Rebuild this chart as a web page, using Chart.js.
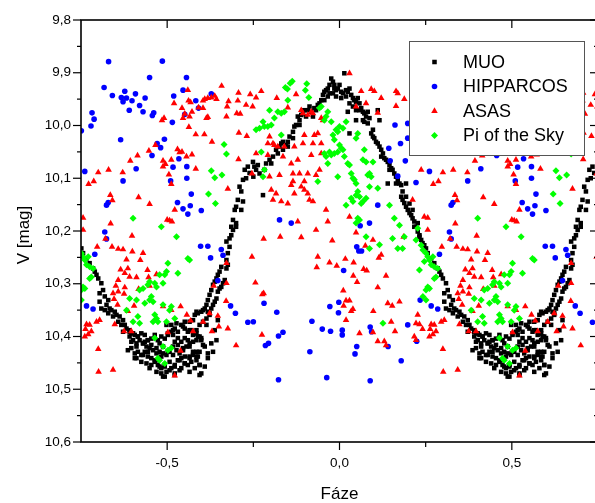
<!DOCTYPE html>
<html>
<head>
<meta charset="utf-8">
<script src="https://cdn.jsdelivr.net/npm/chart.js@4.4.1/dist/chart.umd.min.js"></script>
<style>
  html, body { margin: 0; padding: 0; overflow: hidden; background: #fff; }
  #wrap { width: 620px; height: 503px; }
</style>
</head>
<body>
<div id="wrap"><canvas id="lightCurve" width="620" height="503"></canvas></div>
<script>
// axis ticks
const xTickValues = [-0.5, 0, 0.5];
const xMinorTicks = [-0.25, 0.25];
const yTickValues = [9.8, 9.9, 10.0, 10.1, 10.2, 10.3, 10.4, 10.5, 10.6];
const yMinorTicks = [9.85, 9.95, 10.05, 10.15, 10.25, 10.35, 10.45, 10.55];

// one cycle of [phase, V mag], phases -0.25..0.75
const muoPoints = [
  [-0.250,10.097],[-0.242,10.084],[-0.237,10.075],[-0.247,10.078],[-0.222,10.132],[-0.218,10.084],[-0.213,10.072],[-0.203,10.065],
  [-0.193,10.059],[-0.184,10.046],[-0.174,10.040],[-0.169,10.034],[-0.164,10.031],[-0.155,10.037],[-0.150,10.031],[-0.145,10.021],
  [-0.135,10.012],[-0.131,10.002],[-0.126,9.999],[-0.121,9.983],[-0.116,9.990],[-0.111,9.980],[-0.106,9.977],[-0.102,9.971],
  [-0.092,9.971],[-0.087,9.964],[-0.082,9.974],[-0.073,9.967],[-0.063,9.961],[-0.058,9.958],[-0.053,9.952],[-0.048,9.942],
  [-0.044,9.936],[-0.039,9.933],[-0.034,9.930],[-0.029,9.923],[-0.024,9.911],[-0.019,9.917],[-0.015,9.923],[-0.010,9.933],
  [-0.005,9.930],[0.000,9.923],[0.005,9.936],[0.014,9.901],[0.010,9.939],[0.019,9.933],[0.024,9.936],[0.029,9.930],
  [0.034,9.942],[0.039,9.948],[0.043,9.952],[0.048,9.955],[0.053,9.948],[0.058,9.958],[0.048,9.971],[0.063,9.967],
  [0.068,9.974],[0.072,9.977],[0.077,9.983],[0.082,9.974],[0.087,9.986],[0.072,9.993],[0.092,10.015],[0.097,10.021],
  [0.101,10.024],[0.106,10.031],[0.111,10.034],[0.116,10.040],[0.121,10.046],[0.126,10.053],[0.130,10.062],[0.135,10.065],
  [0.140,10.069],[0.145,10.075],[0.150,10.081],[0.154,10.084],[0.159,10.091],[0.164,10.097],[0.169,10.103],[0.174,10.110],
  [0.179,10.113],[0.140,10.110],[0.193,10.110],[0.179,10.135],[0.183,10.141],[0.188,10.147],[0.193,10.154],[0.198,10.160],
  [0.203,10.166],[0.208,10.170],[0.212,10.176],[0.217,10.182],[0.222,10.192],[0.024,9.974],[0.029,10.015],[0.111,9.971],
  [0.116,9.990],[0.048,9.990],
  [-0.044,9.952],[-0.034,9.945],[-0.019,9.939],[-0.010,9.945],[0.019,9.945],[0.029,9.958],[0.039,9.964],[-0.068,9.971],
  [-0.077,9.983],[-0.097,9.983],[-0.116,9.999],[-0.135,10.024],[-0.150,10.040],[-0.164,10.046],[-0.179,10.053],[-0.198,10.072],
  [-0.232,10.091],[-0.029,9.939],[-0.015,9.930],[0.005,9.948],[0.058,9.971],[0.068,9.990],[0.082,9.996],[0.097,10.008],
  [0.121,10.059],[0.145,10.084],[0.164,10.110],[0.183,10.125],[0.193,10.135],[0.203,10.148],[0.212,10.160],[0.227,10.185],
  [0.217,10.192],[0.227,10.201],[0.232,10.211],[0.241,10.223],[0.251,10.233],
  [0.232,10.208],[0.237,10.217],[0.246,10.227],[0.256,10.242],[0.266,10.252],[0.275,10.261],[0.285,10.271],[0.290,10.277],
  [0.295,10.283],[0.300,10.290],[0.309,10.299],[0.314,10.312],[0.304,10.318],[0.304,10.334],[0.319,10.324],[0.329,10.331],
  [0.324,10.340],[0.333,10.347],[0.338,10.350],[0.348,10.353],[0.353,10.359],[0.362,10.362],[0.372,10.369],[0.377,10.378],
  [0.382,10.385],[0.391,10.391],[0.396,10.394],[0.406,10.397],[0.415,10.400],[0.425,10.394],[0.435,10.397],[0.444,10.407],
  [0.454,10.404],[0.464,10.397],[0.473,10.407],[0.483,10.400],[0.493,10.404],[0.502,10.397],[0.517,10.397],[0.522,10.410],
  [0.386,10.426],[0.396,10.422],[0.406,10.432],[0.415,10.429],[0.425,10.435],[0.435,10.429],[0.444,10.438],[0.454,10.441],
  [0.464,10.448],[0.473,10.445],[0.406,10.441],[0.469,10.467],[0.488,10.476],[0.478,10.457],[0.493,10.454],[0.507,10.448],
  [0.512,10.460],[0.522,10.457],[0.531,10.445],[0.541,10.441],[0.551,10.438],[0.560,10.454],[0.565,10.441],[0.575,10.435],
  [0.585,10.429],[0.594,10.454],[0.599,10.470],[0.589,10.438],[0.604,10.416],[0.599,10.403],[0.589,10.400],[0.580,10.394],
  [0.570,10.388],[0.560,10.391],[0.551,10.385],[0.541,10.378],[0.531,10.391],[0.522,10.385],[0.512,10.378],[0.551,10.372],
  [0.565,10.372],[0.575,10.369],[0.580,10.359],[0.589,10.356],[0.599,10.353],[0.609,10.347],[0.614,10.340],[0.618,10.331],
  [0.623,10.321],[0.628,10.312],[0.633,10.302],[0.638,10.296],[0.643,10.290],[0.647,10.283],[0.652,10.277],[0.657,10.268],
  [0.647,10.315],[0.652,10.309],[0.657,10.306],[0.662,10.299],[0.667,10.293],[0.672,10.271],[0.676,10.264],[0.672,10.255],
  [0.676,10.242],[0.681,10.230],[0.672,10.220],[0.681,10.214],[0.686,10.208],[0.691,10.198],[0.700,10.192],
  [0.391,10.400],[0.401,10.407],[0.411,10.413],[0.420,10.407],[0.430,10.413],[0.440,10.419],[0.449,10.422],[0.459,10.426],
  [0.469,10.432],[0.478,10.429],[0.483,10.438],[0.488,10.432],[0.498,10.435],[0.507,10.429],[0.517,10.435],[0.527,10.426],
  [0.536,10.432],[0.546,10.422],[0.556,10.419],[0.565,10.413],[0.575,10.410],[0.585,10.407],[0.594,10.400],[0.425,10.448],
  [0.440,10.451],[0.454,10.454],[0.449,10.460],[0.483,10.460],[0.498,10.467],[0.522,10.470],[0.541,10.460],[0.551,10.451],
  [0.570,10.448],[0.585,10.445],[0.580,10.460],[0.435,10.410],[0.512,10.391],[0.531,10.403],[0.541,10.410],[0.551,10.403],
  [0.560,10.407],[0.575,10.397],[0.585,10.388],[0.594,10.378],[0.604,10.372],[0.614,10.366],[0.623,10.359],[0.614,10.378],
  [0.618,10.353],[0.628,10.347],[0.633,10.340],[0.638,10.334],[0.643,10.328],[0.372,10.391],[0.367,10.378],[0.358,10.372],
  [0.343,10.362],[0.329,10.356],[0.319,10.350],[0.309,10.347],
  [0.391,10.388],[0.401,10.394],[0.415,10.400],[0.396,10.410],[0.411,10.419],[0.430,10.413],[0.444,10.407],[0.454,10.416],
  [0.469,10.422],[0.478,10.413],[0.488,10.419],[0.502,10.429],[0.517,10.419],[0.531,10.416],[0.546,10.426],[0.565,10.419],
  [0.575,10.429],[0.585,10.438],[0.594,10.429],[0.609,10.419],[0.618,10.432],[0.628,10.413],[0.599,10.407],[0.585,10.394],
  [0.565,10.388],[0.546,10.381],[0.527,10.375],[0.517,10.388],[0.502,10.394],[0.498,10.378],[0.411,10.441],[0.430,10.435],
  [0.444,10.429],[0.464,10.445],[0.473,10.454],[0.493,10.457],[0.507,10.464],[0.522,10.454],[0.536,10.445],[0.551,10.451],
  [0.565,10.438],[0.483,10.470],[0.493,10.476],[0.522,10.473],[0.594,10.454],[0.609,10.457],[0.565,10.467],[0.536,10.464],
  [0.594,10.473],[0.618,10.441],[0.633,10.429],[0.643,10.407],[0.638,10.388],[0.647,10.369],[0.623,10.356],[0.604,10.350],
  [0.585,10.353],
  [0.749,10.069],[0.734,10.078],[0.725,10.084],[0.739,10.090],[0.720,10.103],[0.729,10.100],[0.710,10.116],[0.715,10.125],
  [0.705,10.141],[0.720,10.144],[0.700,10.154],[0.696,10.160],[0.715,10.160],[0.691,10.179],[0.700,10.185],[0.686,10.192]
];

const hipparcosPoints = [
  [0.330,9.879],[0.486,9.878],[0.449,9.909],[0.556,9.909],[0.317,9.928],[0.546,9.933],[0.341,9.943],[0.377,9.935],
  [0.367,9.947],[0.382,9.948],[0.372,9.955],[0.398,9.953],[0.408,9.940],[0.420,9.962],[0.436,9.948],[0.390,9.971],
  [0.430,9.974],[0.461,9.976],[0.457,9.981],[0.519,9.944],[0.583,9.953],[0.591,9.967],[0.628,9.940],[0.551,9.979],
  [0.515,9.994],[0.282,9.976],[0.288,9.988],[0.279,10.001],[0.251,10.010],[0.365,10.027],[0.471,10.034],[0.481,10.042],
  [0.492,10.026],[0.456,10.057],[0.410,10.082],[0.372,10.105],[0.517,10.079],[0.534,10.063],[0.557,10.078],[0.510,10.105],
  [0.557,10.100],[0.261,10.087],[0.570,10.130],[0.530,10.146],[0.546,10.158],[0.560,10.168],[0.567,10.152],[0.599,10.161],
  [0.324,10.151],[0.329,10.146],
  [0.319,10.202],[0.324,10.215],[0.290,10.244],[0.266,10.342],[0.285,10.348],[0.597,10.229],[0.618,10.229],[0.626,10.251],
  [0.657,10.235],[0.662,10.246],[0.647,10.294],[0.684,10.342],[0.698,10.356],[0.734,10.373],
  [0.161,9.999],[0.198,9.996],[0.198,10.024],[0.177,10.034],[0.143,10.043],[0.147,10.067],[0.191,10.067],[0.169,10.096],
  [0.222,10.108],[-0.174,10.179],[-0.140,10.185],[0.060,10.190],[0.087,10.185],[0.111,10.151],
  [0.050,10.230],[0.056,10.238],[0.064,10.238],[0.012,10.275],[-0.219,10.337],[-0.182,10.354],[-0.250,10.372],[-0.028,10.343],
  [-0.002,10.335],[-0.003,10.355],[-0.080,10.371],[-0.050,10.386],[-0.026,10.390],[0.008,10.388],[0.008,10.397],[-0.164,10.392],
  [-0.177,10.399],[-0.206,10.413],[-0.215,10.417],[-0.086,10.429],[0.050,10.419],[0.045,10.433],[0.089,10.382],[0.093,10.391],
  [0.141,10.419],[0.179,10.446],[0.198,10.378],[0.224,10.409],[0.234,10.331],[-0.177,10.482],[-0.037,10.478],[0.089,10.484]
];

const asasPoints = [
  [0.560,9.933],[0.520,9.958],[0.562,9.953],[0.568,9.956],[0.543,9.967],[0.572,9.974],[0.565,9.983],[0.546,9.986],
  [0.551,9.978],[0.604,9.953],[0.609,9.950],[0.618,9.948],[0.628,9.947],[0.638,9.944],[0.643,9.950],[0.604,9.967],
  [0.591,9.966],[0.614,9.986],[0.618,9.984],[0.563,10.003],[0.583,10.017],[0.608,10.017],[0.630,10.031],[0.658,9.925],
  [0.707,9.938],[0.705,9.953],[0.678,9.954],[0.674,9.964],[0.672,9.983],[0.702,9.977],[0.712,9.978],[0.729,9.961],
  [0.741,9.941],[0.748,9.964],[0.708,10.014],[0.731,10.020],[0.707,10.064],[0.746,10.091],[0.676,10.120],[0.485,9.990],
  [0.491,9.986],[0.466,10.037],[0.447,10.048],[0.414,10.057],[0.393,10.067],[0.371,10.089],[0.330,10.084],[0.300,10.089],
  [0.287,10.106],[0.272,10.111],[0.488,10.067],[0.495,10.073],[0.488,10.078],[0.512,10.065],[0.530,10.045],[0.536,10.051],
  [0.543,10.050],[0.556,10.059],[0.572,10.055],[0.583,10.082],[0.505,10.093],[0.512,10.111],[0.335,10.132],[0.341,10.142],
  [0.417,10.136],[0.449,10.149],[0.522,10.160],[0.500,10.179],[0.507,10.180],[0.514,10.182],[0.336,10.186],[0.256,10.175],
  [0.256,10.198],[0.321,10.215],[0.398,10.209],[0.297,10.230],[0.340,10.230],[0.358,10.234],[0.372,10.235],[0.399,10.239],
  [0.430,10.242],[0.382,10.254],[0.422,10.255],[0.365,10.273],[0.386,10.271],[0.377,10.280],[0.391,10.287],[0.411,10.288],
  [0.358,10.293],[0.443,10.274],[0.469,10.282],[0.446,10.288],[0.351,10.304],[0.377,10.307],[0.417,10.310],[0.343,10.318],
  [0.358,10.315],[0.375,10.319],[0.449,10.304],[0.346,10.329],[0.404,10.342],[0.386,10.352],[0.356,10.340],[0.488,10.343],
  [0.512,10.350],[0.539,10.343],[0.557,10.359],[0.568,10.370],[0.604,10.372],[0.623,10.356],[0.647,10.361],[0.635,10.304],
  [0.672,10.299],[0.672,10.261],[0.671,10.333],[0.746,10.249],[0.266,10.377],[0.275,10.378],[0.304,10.369],[0.295,10.372],
  [0.263,10.386],[0.280,10.390],[0.271,10.396],[0.261,10.400],[0.348,10.377],[0.375,10.390],[0.396,10.390],[0.464,10.369],
  [0.502,10.392],[0.575,10.390],[0.539,10.427],[0.630,10.390],[0.650,10.381],[0.676,10.385],[0.700,10.417],[0.300,10.424],
  [0.301,10.467],[0.343,10.463],[0.522,10.474],
  [0.029,9.901],[0.063,9.935],[0.092,9.931],[0.101,9.935],[0.121,9.948],[0.164,9.935],[0.169,9.939],[0.188,9.950],
  [0.164,9.963],[0.111,9.976],[0.077,9.958],[0.048,9.964],[-0.227,9.935],[-0.242,9.947],[-0.182,9.948],[-0.126,9.941],
  [-0.150,9.966],[-0.111,9.971],[-0.082,9.974],[-0.077,9.977],[-0.092,9.980],[-0.106,9.977],[-0.053,9.986],[-0.048,9.990],
  [-0.203,10.021],[-0.193,10.034],[-0.208,10.034],[-0.189,10.037],[-0.102,10.018],[-0.073,10.018],[-0.063,10.015],[-0.106,10.034],
  [-0.077,10.034],[-0.053,10.034],[-0.131,10.040],[-0.160,10.040],[-0.179,10.040],[-0.242,10.053],[-0.208,10.056],[-0.082,10.056],
  [-0.053,10.053],[-0.121,10.065],[-0.140,10.072],[-0.164,10.059],[-0.174,10.094],[-0.203,10.097],[-0.135,10.091],[-0.116,10.091],
  [-0.092,10.091],[-0.058,10.084],[-0.068,10.094],[-0.135,10.106],[-0.102,10.106],[-0.140,10.113],[-0.111,10.116],[-0.102,10.122],
  [-0.092,10.129],[-0.198,10.122],[-0.184,10.129],[-0.193,10.141],[-0.169,10.144],[-0.150,10.148],[-0.131,10.129],[-0.087,10.141],
  [-0.077,10.144],[0.237,10.084],[0.212,10.141],[0.246,10.173],[-0.039,10.160],[-0.034,10.182],[0.029,10.173],[-0.121,10.182],
  [-0.068,10.198],
  [-0.220,10.215],[-0.172,10.211],[-0.111,10.212],[-0.021,10.218],[0.048,10.203],[0.097,10.217],[0.075,10.228],[0.121,10.245],
  [0.114,10.251],[0.186,10.211],[-0.063,10.249],[-0.066,10.269],[-0.029,10.260],[-0.008,10.266],[0.017,10.253],[0.041,10.260],
  [0.070,10.272],[0.079,10.275],[0.040,10.285],[0.051,10.297],[0.135,10.285],[0.111,10.307],[-0.244,10.298],[-0.224,10.320],
  [-0.220,10.318],[0.011,10.313],[0.019,10.332],[0.012,10.342],[0.029,10.332],[0.034,10.352],[0.039,10.348],[0.019,10.369],
  [0.098,10.352],[0.140,10.337],[0.153,10.342],[0.174,10.334],[-0.225,10.397],[0.058,10.394],[0.097,10.392],[0.111,10.409],
  [0.130,10.409],[0.135,10.417],[0.150,10.372],[0.161,10.390],[0.227,10.359],[0.222,10.375],[0.232,10.377],[0.241,10.386],
  [0.217,10.400],[0.222,10.407]
];

const piSkyPoints = [
  [-0.137,9.916],[-0.143,9.920],[-0.157,9.928],[-0.151,9.931],[-0.095,9.921],[-0.099,9.933],[-0.089,9.947],[-0.150,9.952],
  [-0.203,9.971],[-0.179,9.974],[-0.169,9.977],[-0.160,9.974],[-0.189,9.986],[-0.222,9.993],[-0.218,10.002],[-0.232,10.005],
  [-0.242,10.008],[-0.208,10.002],[-0.198,9.999],[-0.169,10.018],[-0.227,10.050],[-0.218,10.084],[-0.222,10.097],[-0.058,9.967],
  [-0.053,9.964],[-0.034,9.974],[-0.039,9.983],[-0.044,9.990],[-0.024,9.993],[0.000,10.002],[-0.010,10.008],[-0.019,10.018],
  [-0.015,10.027],[0.019,9.993],[0.010,10.005],[-0.005,10.012],[0.053,10.015],[0.048,10.024],[0.000,10.037],[0.005,10.043],
  [-0.005,10.050],[-0.015,10.053],[-0.024,10.056],[-0.029,10.050],[-0.044,10.053],[-0.034,10.072],[-0.039,10.059],[0.010,10.046],
  [0.014,10.059],[0.072,10.046],[0.068,10.065],[0.097,10.069],[0.077,10.069],[0.024,10.072],[0.029,10.075],[-0.005,10.097],
  [0.034,10.091],[0.039,10.100],[0.043,10.103],[0.048,10.110],[0.087,10.091],[0.092,10.097],[0.082,10.094],[0.087,10.116],
  [0.111,10.119],[-0.063,10.106],[0.053,10.125],[0.048,10.132],[0.058,10.135],[0.034,10.138],[0.039,10.144],[0.019,10.151],
  [0.068,10.144],[0.077,10.138],[0.063,10.148],[0.053,10.176],[0.058,10.179],[0.048,10.185],[0.145,10.151],[0.159,10.176],
  [0.174,10.189],[0.227,10.195],
  [0.077,10.211],[0.087,10.233],[0.116,10.226],[0.154,10.214],[0.169,10.233],[0.183,10.233],[0.188,10.211],[0.126,10.375],
  [0.222,10.217],[0.232,10.274],
  [0.237,10.227],[0.242,10.236],[0.251,10.242],[0.256,10.249],[0.271,10.249],[0.261,10.255],[0.246,10.258],[0.266,10.264],
  [0.275,10.268],[0.285,10.271],[0.280,10.287],[0.275,10.290],[0.256,10.306],[0.261,10.309],[0.251,10.312],[0.242,10.324],
  [0.251,10.331],[0.382,10.350],[0.391,10.328],[0.411,10.331],[0.401,10.372],[0.415,10.362],[0.420,10.375],[0.435,10.337],
  [0.449,10.331],[0.454,10.324],[0.459,10.334],[0.444,10.302],[0.449,10.296],[0.464,10.299],[0.469,10.306],[0.430,10.309],
  [0.420,10.312],[0.478,10.283],[0.493,10.283],[0.488,10.299],[0.498,10.277],[0.502,10.261],[0.531,10.280],[0.560,10.252],
  [0.565,10.255],[0.527,10.211],[0.483,10.192],[0.464,10.359],[0.469,10.366],[0.473,10.372],[0.459,10.372],[0.488,10.340],
  [0.498,10.372],[0.507,10.350],[0.512,10.343],[0.522,10.366],[0.464,10.403],[0.488,10.419],[0.502,10.426],[0.512,10.422],
  [0.478,10.445],[0.473,10.441],[0.493,10.451],
  [0.665,10.036],[0.672,10.054],[0.628,10.086],[0.638,10.099],[0.659,10.094],[0.620,10.130],[0.640,10.148],[0.401,10.176]
];

// phase diagram: anything past +0.25 is shown again one cycle earlier
function foldPoints(list) {
  const out = [];
  list.forEach(([phase, mag]) => {
    out.push({ x: phase, y: mag });
    if (phase >= 0.25) out.push({ x: phase - 1, y: mag });
  });
  return out;
}

const seriesStyle = [
  { label: "MUO", points: muoPoints, style: "rect", radius: 3.2, color: "#000000" },
  { label: "HIPPARCOS", points: hipparcosPoints, style: "circle", radius: 2.8, color: "#0000ff" },
  { label: "ASAS", points: asasPoints, style: "triangle", radius: 3.8, color: "#ff0000" },
  { label: "Pi of the Sky", points: piSkyPoints, style: "rectRot", radius: 3.5, color: "#00ff00" },
];

const fmt = (v) => v.toFixed(1).replace(".", ",").replace("-0,0", "0,0");
const FONT = "'Liberation Sans', Arial, sans-serif";

function drawMarker(ctx, style, x, y, r, color) {
  ctx.fillStyle = color;
  ctx.beginPath();
  if (style === "rect") {
    const s = r * Math.SQRT1_2;
    ctx.rect(x - s, y - s, 2 * s, 2 * s);
  } else if (style === "circle") {
    ctx.arc(x, y, r, 0, Math.PI * 2);
  } else if (style === "triangle") {
    ctx.moveTo(x, y - r);
    ctx.lineTo(x + r * 0.866, y + r * 0.5);
    ctx.lineTo(x - r * 0.866, y + r * 0.5);
    ctx.closePath();
  } else {
    ctx.moveTo(x, y - r);
    ctx.lineTo(x + r, y);
    ctx.lineTo(x, y + r);
    ctx.lineTo(x - r, y);
    ctx.closePath();
  }
  ctx.fill();
}

// frame, ticks, labels and the boxed legend
const framePlugin = {
  id: "frameAndLegend",
  afterDatasetsDraw(chart) {
    const { ctx, chartArea: a } = chart;
    const xs = chart.scales.x;
    const ys = chart.scales.y;
    const line = (x1, y1, x2, y2) => {
      ctx.beginPath();
      ctx.moveTo(x1, y1);
      ctx.lineTo(x2, y2);
      ctx.stroke();
    };

    ctx.save();
    ctx.strokeStyle = "#000";
    ctx.lineWidth = 1.6;
    ctx.strokeRect(a.left, a.top, a.right - a.left, a.bottom - a.top);

    ctx.lineWidth = 1.2;
    xTickValues.forEach((v) => {
      const px = xs.getPixelForValue(v);
      line(px, a.bottom, px, a.bottom + 8);
      line(px, a.top, px, a.top + 8);
    });
    xMinorTicks.forEach((v) => {
      const px = xs.getPixelForValue(v);
      line(px, a.bottom, px, a.bottom + 5);
      line(px, a.top, px, a.top + 5);
    });
    yTickValues.forEach((v) => {
      const py = ys.getPixelForValue(v);
      line(a.left - 8, py, a.left, py);
      line(a.right - 8, py, a.right, py);
    });
    yMinorTicks.forEach((v) => {
      const py = ys.getPixelForValue(v);
      line(a.left - 4, py, a.left, py);
      line(a.right - 4, py, a.right, py);
    });

    // tick labels
    ctx.fillStyle = "#000";
    ctx.font = "13.5px " + FONT;
    ctx.textAlign = "center";
    ctx.textBaseline = "alphabetic";
    xTickValues.forEach((v) => {
      ctx.fillText(fmt(v), xs.getPixelForValue(v), 467);
    });
    ctx.textAlign = "right";
    ctx.textBaseline = "middle";
    yTickValues.forEach((v) => {
      ctx.fillText(fmt(v), 71, ys.getPixelForValue(v));
    });

    // axis titles
    ctx.font = "17px " + FONT;
    ctx.textAlign = "center";
    ctx.textBaseline = "alphabetic";
    ctx.fillText("Fáze", xs.getPixelForValue(0), 499);
    ctx.save();
    ctx.translate(29, (a.top + a.bottom) / 2 + 4);
    ctx.rotate(-Math.PI / 2);
    ctx.fillText("V [mag]", 0, 0);
    ctx.restore();

    // legend box
    ctx.fillStyle = "#fff";
    ctx.fillRect(409, 41, 176, 115);
    ctx.strokeStyle = "#555";
    ctx.lineWidth = 1;
    ctx.strokeRect(409.5, 41.5, 175, 114);
    ctx.font = "18px " + FONT;
    ctx.textAlign = "left";
    ctx.textBaseline = "middle";
    seriesStyle.forEach((s, i) => {
      const rowY = 62 + i * 24.5;
      drawMarker(ctx, s.style, 434.5, rowY, s.radius, s.color);
      ctx.fillStyle = "#000";
      ctx.fillText(s.label, 463, rowY + 1);
    });
    ctx.restore();
  },
};

const datasets = seriesStyle.map((s, i) => ({
  label: s.label,
  data: foldPoints(s.points),
  pointStyle: s.style,
  pointRadius: s.radius,
  pointBorderWidth: 0,
  backgroundColor: s.color,
  borderColor: s.color,
  order: seriesStyle.length - i, // later series drawn on top
}));

new Chart(document.getElementById("lightCurve"), {
  type: "scatter",
  data: { datasets },
  options: {
    responsive: false,
    animation: false,
    events: [],
    layout: { padding: { left: 81, top: 20, right: 22, bottom: 61 } },
    plugins: { legend: { display: false }, tooltip: { enabled: false } },
    scales: {
      x: { type: "linear", min: -0.75, max: 0.75, display: false },
      y: { type: "linear", min: 9.8, max: 10.6, reverse: true, display: false },
    },
  },
  plugins: [framePlugin],
});
</script>
</body>
</html>
